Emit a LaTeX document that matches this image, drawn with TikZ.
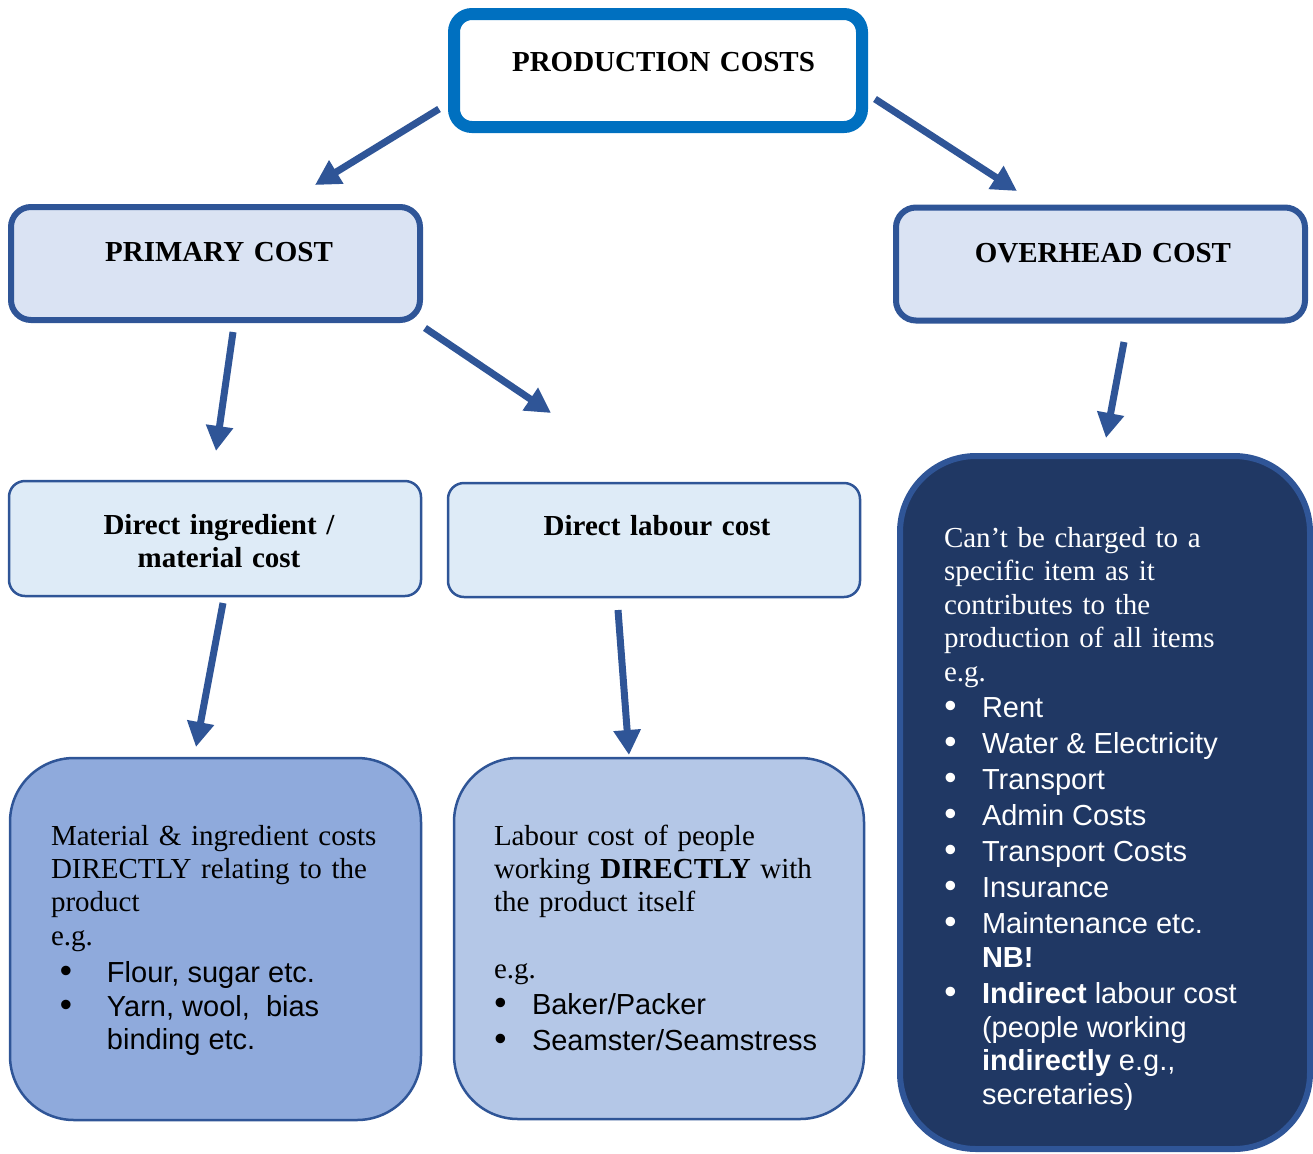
\documentclass[tikz,border=0pt]{standalone}
\usepackage{fontspec}
\setmainfont{Liberation Serif}
\newfontfamily\sansbody{Liberation Sans}
\usetikzlibrary{arrows.meta}

\definecolor{prodblue}{HTML}{0070C0}
\definecolor{darkblue}{HTML}{2F5597}
\definecolor{palefill}{HTML}{DAE3F3}
\definecolor{lightfill}{HTML}{DEEBF7}
\definecolor{midfill}{HTML}{8FAADC}
\definecolor{softfill}{HTML}{B4C7E7}
\definecolor{navyfill}{HTML}{203864}

% bullet line: left gap, gap to item text, item text
\newcommand{\listdot}[3]{{\sansbody\spaceskip=0pt\hspace*{#1}\makebox[#2][l]{\scalebox{1.2}{\textbullet}}#3}}
% continuation line of a bullet item
\newcommand{\listcont}[2]{{\sansbody\spaceskip=0pt\hspace*{#1}#2}}
% slightly tighter word spacing for the serif text
\newcommand{\serifspacing}{\spaceskip=0.21em\relax}

\begin{document}
\begin{tikzpicture}[x=0.5pt,y=-0.5pt,
  every node/.style={inner sep=0pt, outer sep=0pt},
  topbox/.style={draw=prodblue, line width=6pt, fill=white, rounded corners=9pt,
    minimum width=204pt, minimum height=56.5pt},
  costbox/.style={draw=darkblue, line width=3pt, fill=palefill, rounded corners=10pt,
    minimum width=204.5pt, minimum height=56.5pt},
  directbox/.style={draw=darkblue, line width=1.25pt, fill=lightfill, rounded corners=8pt,
    minimum width=206pt, minimum height=57.5pt},
  detailbox/.style={draw=darkblue, line width=1.25pt, rounded corners=32pt,
    minimum width=205.5pt, minimum height=181pt},
  headtext/.style={font=\bfseries\fontsize{14.5pt}{16.6pt}\selectfont\serifspacing, anchor=base,
    text width=200pt, align=center},
  bodytext/.style={font=\fontsize{14.5pt}{16.7pt}\selectfont\serifspacing, anchor=base west,
    text width=190pt, align=left},
  arr/.style={draw=darkblue, line width=3.5pt, -{Triangle[length=12.5pt, width=13pt]}}
]
\useasboundingbox (0,0) rectangle (1313,1153);

% ---- boxes ----
\node[topbox] (prod) at (658,70.5) {};
\node[costbox] (prim) at (215.5,263.5) {};
\node[costbox] (over) at (1100.5,264) {};
\node[directbox] (ding) at (215,538.5) {};
\node[directbox, minimum height=57pt] (dlab) at (654,540) {};
\node[detailbox, fill=midfill] (mat) at (215.5,939) {};
\node[detailbox, fill=softfill, minimum width=205pt, minimum height=180.5pt] (lab) at (659,938.5) {};
\node[draw=darkblue, line width=3pt, fill=navyfill, rounded corners=38pt,
  minimum width=205pt, minimum height=346.5pt] (ovb) at (1105,802.5) {};

% ---- headings ----
\node[headtext] (prodt) at (663.5,71) {PRODUCTION COSTS};
\node[headtext] (primt) at (219,261) {PRIMARY COST};
\node[headtext] (overt) at (1103,262) {OVERHEAD COST};
\node[headtext] (dingt) at (219,534) {Direct ingredient /\\ material cost};
\node[headtext] (dlabt) at (657,535) {Direct labour cost};

% ---- box contents ----
\node[bodytext] (matt) at (51,845) {Material \& ingredient costs\\
DIRECTLY relating to the\\
product\\
e.g.\\[2pt]
\listdot{4.5pt}{23.5pt}{Flour, sugar etc.}\\
\listdot{4.5pt}{23.5pt}{Yarn, wool,\ \ bias}\\
\listcont{28pt}{binding etc.}};

\node[bodytext] (labt) at (494,845) {Labour cost of people\\
working \textbf{DIRECTLY} with\\
the product itself\\[16.7pt]
e.g.\\[1.3pt]
\listdot{0.2pt}{18.8pt}{Baker/Packer}\\[1pt]
\listdot{0.2pt}{18.8pt}{Seamster/Seamstress}};

\node[bodytext, text=white, font=\fontsize{14.5pt}{16.8pt}\selectfont\serifspacing] (ovbt) at (944,547) {Can’t be charged to a\\
specific item as it\\
contributes to the\\
production of all items\\
e.g.\\[1.4pt]
\listdot{0.2pt}{18.8pt}{Rent}\\[1.2pt]
\listdot{0.2pt}{18.8pt}{Water \& Electricity}\\[1.2pt]
\listdot{0.2pt}{18.8pt}{Transport}\\[1.2pt]
\listdot{0.2pt}{18.8pt}{Admin Costs}\\[1.2pt]
\listdot{0.2pt}{18.8pt}{Transport Costs}\\[1.2pt]
\listdot{0.2pt}{18.8pt}{Insurance}\\[1.2pt]
\listdot{0.2pt}{18.8pt}{Maintenance etc.}\\
\listcont{19pt}{\textbf{NB!}}\\[1.2pt]
\listdot{0.2pt}{18.8pt}{\textbf{Indirect} labour cost}\\
\listcont{19pt}{(people working}\\
\listcont{19pt}{\textbf{indirectly} e.g.,}\\
\listcont{19pt}{secretaries)}};

% ---- connector ends ----
\coordinate (a1s) at (439,109);   \coordinate (a1e) at (315,185);
\coordinate (a2s) at (875,99);    \coordinate (a2e) at (1017,191);
\coordinate (a3s) at (233,332);   \coordinate (a3e) at (216,451);
\coordinate (a4s) at (425,328);   \coordinate (a4e) at (551,413);
\coordinate (a5s) at (1124,342);  \coordinate (a5e) at (1106,438);
\coordinate (a6s) at (223,603);   \coordinate (a6e) at (196,747);
\coordinate (a7s) at (618,610);   \coordinate (a7e) at (629,755);

% ---- connectors ----
\draw[arr] (a1s) -- (a1e);
\draw[arr] (a2s) -- (a2e);
\draw[arr] (a3s) -- (a3e);
\draw[arr] (a4s) -- (a4e);
\draw[arr] (a5s) -- (a5e);
\draw[arr] (a6s) -- (a6e);
\draw[arr] (a7s) -- (a7e);
\end{tikzpicture}
\end{document}
